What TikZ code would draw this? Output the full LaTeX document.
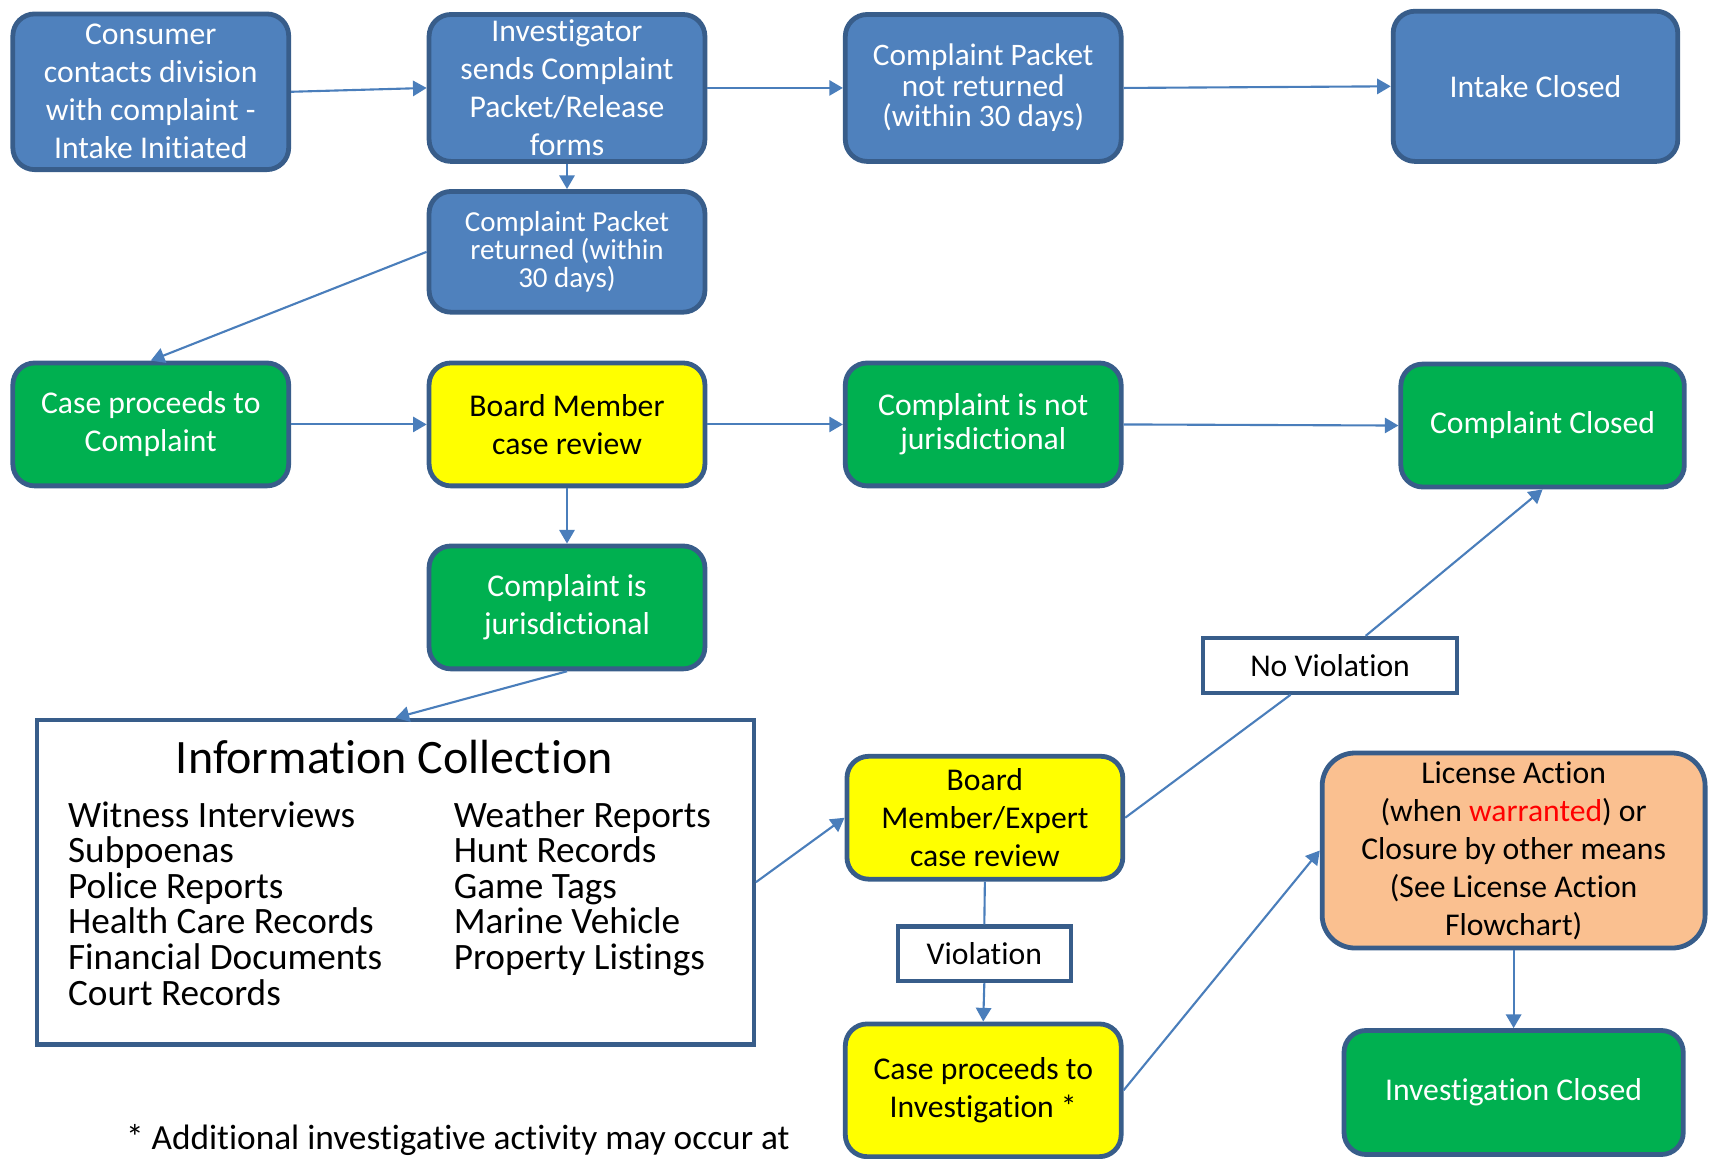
\documentclass[tikz,border=0pt]{standalone}
\usepackage{fontspec}
\setmainfont{Carlito}[Ligatures=NoCommon]
\usepackage{tikz}
\usetikzlibrary{arrows.meta,positioning,calc,shapes}

\definecolor{boxedge}{HTML}{385D8A}
\definecolor{intakeblue}{HTML}{4F81BD}
\definecolor{stagegreen}{HTML}{00B050}
\definecolor{reviewyellow}{HTML}{FFFF00}
\definecolor{licenseorange}{HTML}{FAC090}
\definecolor{linkblue}{HTML}{4A7EBB}

\tikzset{>={Triangle[length=2.5mm,width=2.8mm]}}
\tikzset{
  flowbox/.style={draw=boxedge, line width=2.5pt, rounded corners=4mm, align=center,
    inner sep=0pt, minimum width=50.5mm, minimum height=22.5mm,
    font=\fontsize{16.5}{19.8}\selectfont},
  intake/.style={flowbox, fill=intakeblue, text=white},
  stage/.style={flowbox, fill=stagegreen, text=white},
  review/.style={flowbox, fill=reviewyellow, text=black},
  license/.style={flowbox, fill=licenseorange, text=black, rounded corners=6mm},
  outcome/.style={draw=boxedge, line width=2.2pt, fill=white, inner sep=0pt,
    minimum height=10mm, font=\fontsize{16.5}{19.8}\selectfont},
  infobox/.style={draw=boxedge, line width=2.2pt, inner sep=0pt},
  infoitem/.style={inner sep=0pt, anchor=base west, font=\fontsize{19.4}{18.6}\selectfont},
  link/.style={draw=linkblue, line width=1.1pt}
}

\begin{document}
\begin{tikzpicture}[x=0.2mm,y=-0.2mm]
\useasboundingbox (0,0) rectangle (1568,1060);

% intake row
\node [intake, minimum height=28.5mm] (consumer) at (138,84) {Consumer\\contacts division\\with complaint -\\Intake Initiated};
\node [intake, minimum height=26.9mm] (sends) at (519,80.5) {Investigator\\sends Complaint\\Packet/Release\\forms};
\node [intake, minimum height=26.9mm, font=\fontsize{16.3}{15.9}\selectfont] (notret) at (900,80.5) {Complaint Packet\\not returned\\(within 30 days)};
\node [intake, minimum width=52.1mm, minimum height=27.5mm] (intakeclosed) at (1405.5,79) {Intake Closed};
\node [intake, minimum height=22.1mm, font=\fontsize{15.1}{14.8}\selectfont] (ret) at (519,230.5) {Complaint Packet\\returned (within\\30 days)};

% complaint row
\node [stage] (proceeds) at (138,388.5) {Case proceeds to\\Complaint};
\node [review] (board) at (519,388.5) {Board Member\\case review};
\node [stage, font=\fontsize{16.5}{17.6}\selectfont] (notjuris) at (900,388.5) {Complaint is not\\jurisdictional};
\node [stage, minimum width=51.9mm] (cclosed) at (1412,389.5) {Complaint Closed};
\node [stage] (juris) at (519,556) {Complaint is\\jurisdictional};

% information collection
\node [infobox, minimum width=131.2mm, minimum height=59.4mm] (info) at (362,807.5) {};
\node [inner sep=0pt, anchor=base, font=\fontsize{25}{29}\selectfont] (infotitle) at (361,708) {Information Collection};
\foreach \item [count=\i] in {Witness Interviews, Subpoenas, Police Reports, Health Care Records, Financial Documents, Court Records}
  \node [infoitem] (left\i) at (62,{757+32.6*(\i-1)}) {\item};
\foreach \item [count=\i] in {Weather Reports, Hunt Records, Game Tags, Marine Vehicle, Property Listings}
  \node [infoitem] (right\i) at (415,{757+32.6*(\i-1)}) {\item};

% investigation
\node [outcome, minimum width=46.6mm] (novio) at (1217.5,609) {No Violation};
\node [review] (expert) at (901.5,748.5) {Board\\Member/Expert\\case review};
\node [outcome, minimum width=31.6mm] (vio) at (901,873) {Violation};
\node [review, minimum height=24.3mm] (caseinv) at (900,998) {Case proceeds to\\Investigation *};
\node [license, minimum width=70.1mm, minimum height=35.7mm] (lic) at (1385.5,778.5) {License Action\\(when \textcolor{red}{warranted}) or\\Closure by other means\\(See License Action\\Flowchart)};
\node [stage, minimum width=62.1mm, minimum height=22.7mm] (invclosed) at (1385.5,1000) {Investigation Closed};

\node [infoitem, font=\fontsize{18.4}{18.6}\selectfont] (note) at (115,1052) {* Additional investigative activity may occur at};

\begin{scope}[link]
\draw[->] (consumer.east) -- (sends.west);
\draw[->] (sends.east) -- (notret.west);
\draw[->] (notret.east) -- (intakeclosed.west);
\draw[->] (sends.south) -- (ret.north);
\draw[->] (ret.west) -- (proceeds.north);
\draw[->] (proceeds.east) -- (board.west);
\draw[->] (board.east) -- (notjuris.west);
\draw[->] (notjuris.east) -- (cclosed.west);
\draw[->] (board.south) -- (juris.north);
\draw[->] (juris.south) -- (info.north);
\draw[->] (info.east) -- (expert.west);
\draw (expert.east) -- (novio);
\draw[->] (novio) -- (cclosed.south);
\draw (expert.south) -- (vio.north);
\draw[->] (vio.south) -- (caseinv.north);
\draw[->] (caseinv.east) -- (lic.west);
\draw[->] (lic.south) -- (invclosed.north);
\end{scope}

\end{tikzpicture}
\end{document}
